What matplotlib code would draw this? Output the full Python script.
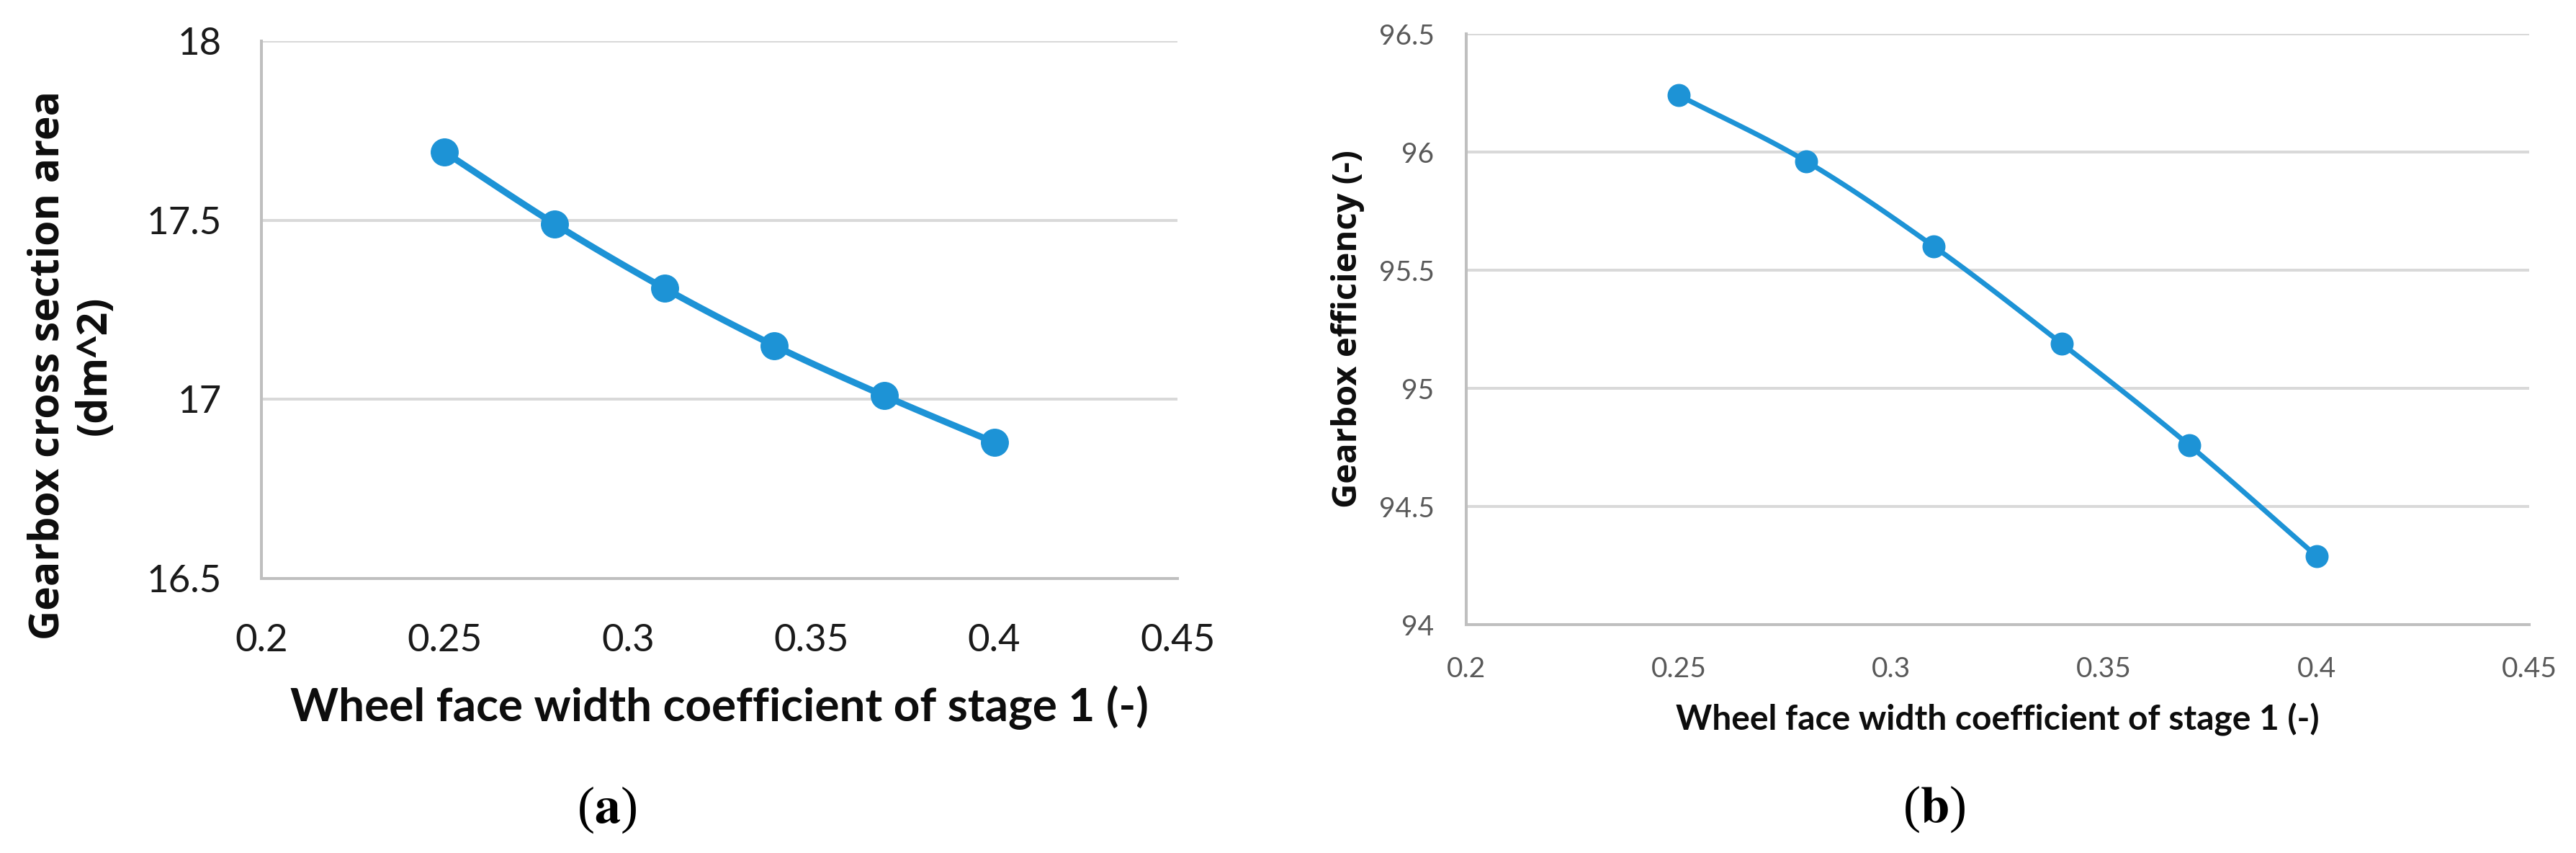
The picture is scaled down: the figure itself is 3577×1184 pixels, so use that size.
import numpy as np
import matplotlib
matplotlib.use('Agg')
import matplotlib.pyplot as plt

# data
coef = [0.25, 0.28, 0.31, 0.34, 0.37, 0.40]
area = [17.69, 17.49, 17.31, 17.15, 17.01, 16.88]
eff = [96.24, 95.96, 95.60, 95.19, 94.76, 94.29]

xticks = [0.2, 0.25, 0.3, 0.35, 0.4, 0.45]
xtick_lab = ['0.2', '0.25', '0.3', '0.35', '0.4', '0.45']
yticks_a = [16.5, 17, 17.5, 18]
ytick_lab_a = ['16.5', '17', '17.5', '18']
yticks_b = [94, 94.5, 95, 95.5, 96, 96.5]
ytick_lab_b = ['94', '94.5', '95', '95.5', '96', '96.5']

xlab = 'Wheel face width coefficient of stage 1 (-)'
ylab_a = 'Gearbox cross section area\n(dm^2)'
ylab_b = 'Gearbox efficiency (-)'

blue = '#1D93D6'
grid_c = '#D9D9D9'
spine_c = '#BFBFBF'

plt.rcParams['mathtext.fontset'] = 'stix'


def smooth(x, y, n=20):
    # catmull-rom like the excel "smoothed line"
    x = np.asarray(x, float)
    y = np.asarray(y, float)
    px = np.concatenate([[2*x[0]-x[1]], x, [2*x[-1]-x[-2]]])
    py = np.concatenate([[2*y[0]-y[1]], y, [2*y[-1]-y[-2]]])
    xs, ys = [], []
    t = np.linspace(0, 1, n)
    for i in range(1, len(px)-2):
        for p, out in ((px, xs), (py, ys)):
            p0, p1, p2, p3 = p[i-1], p[i], p[i+1], p[i+2]
            out.extend(0.5*((2*p1) + (-p0+p2)*t + (2*p0-5*p1+4*p2-p3)*t**2
                            + (-p0+3*p1-3*p2+p3)*t**3))
    return xs, ys


W, H = 3577, 1184
fig = plt.figure(figsize=(W/100, H/100), dpi=100)

def style(ax, yt, ytl, ylim, fs, col, padx, pady):
    ax.set_xlim(0.2, 0.45)
    ax.set_ylim(*ylim)
    ax.set_xticks(xticks)
    ax.set_xticklabels(xtick_lab)
    ax.set_yticks(yt)
    ax.set_yticklabels(ytl)
    for s in ['top', 'right']:
        ax.spines[s].set_visible(False)
    for s in ['left', 'bottom']:
        ax.spines[s].set_color(spine_c)
        ax.spines[s].set_linewidth(2.9)
    ax.grid(axis='y', color=grid_c, linewidth=2.9)
    ax.set_axisbelow(True)
    ax.tick_params(length=0, labelsize=fs, labelcolor=col)
    ax.tick_params(axis='x', pad=padx)
    ax.tick_params(axis='y', pad=pady)
    for lab in ax.get_xticklabels() + ax.get_yticklabels():
        lab.set_family('Lato')

# panel (a)
ax1 = fig.add_axes([363/W, 1-803/H, (1635-363)/W, (803-57)/H])
style(ax1, yticks_a, ytick_lab_a, (16.5, 18), 38, '#1A1A1A', 45, 40)
sx, sy = smooth(coef, area)
ax1.plot(sx, sy, color=blue, lw=6.5, solid_capstyle='round', zorder=3)
ax1.plot(coef, area, 'o', color=blue, ms=27, zorder=4, clip_on=False)

# panel (b)
ax2 = fig.add_axes([2036/W, 1-867/H, (3512-2036)/W, (867-47)/H])
style(ax2, yticks_b, ytick_lab_b, (94, 96.5), 28, '#595959', 32, 32)
sx, sy = smooth(coef, eff)
ax2.plot(sx, sy, color=blue, lw=5, solid_capstyle='round', zorder=3)
ax2.plot(coef, eff, 'o', color=blue, ms=22, zorder=4, clip_on=False)

# axis titles
fig.text(999/W, 1-1001/H, xlab, ha='center', va='baseline', fontsize=46,
         fontweight='bold', family='Lato', color='#0D0D0D')
fig.text(2774/W, 1-1014/H, xlab, ha='center', va='baseline', fontsize=34.5,
         fontweight='bold', family='Lato', color='#0D0D0D')
fig.text(99/W, 1-507/H, ylab_a, ha='center', va='center', rotation=90,
         fontsize=41, fontweight='bold', family='Open Sans', color='#0D0D0D',
         linespacing=1.15, multialignment='center')
fig.text(1871/W, 1-457/H, ylab_b, ha='center', va='center', rotation=90,
         fontsize=34, fontweight='bold', family='Open Sans', color='#0D0D0D')

# panel letters
fig.text(843/W, 1-1124/H, r'($\mathbf{a}$)', ha='center', va='center',
         fontsize=52, family='Liberation Serif')
fig.text(2686/W, 1-1123/H, r'($\mathbf{b}$)', ha='center', va='center',
         fontsize=52, family='Liberation Serif')

plt.savefig('out.png', dpi=100)
